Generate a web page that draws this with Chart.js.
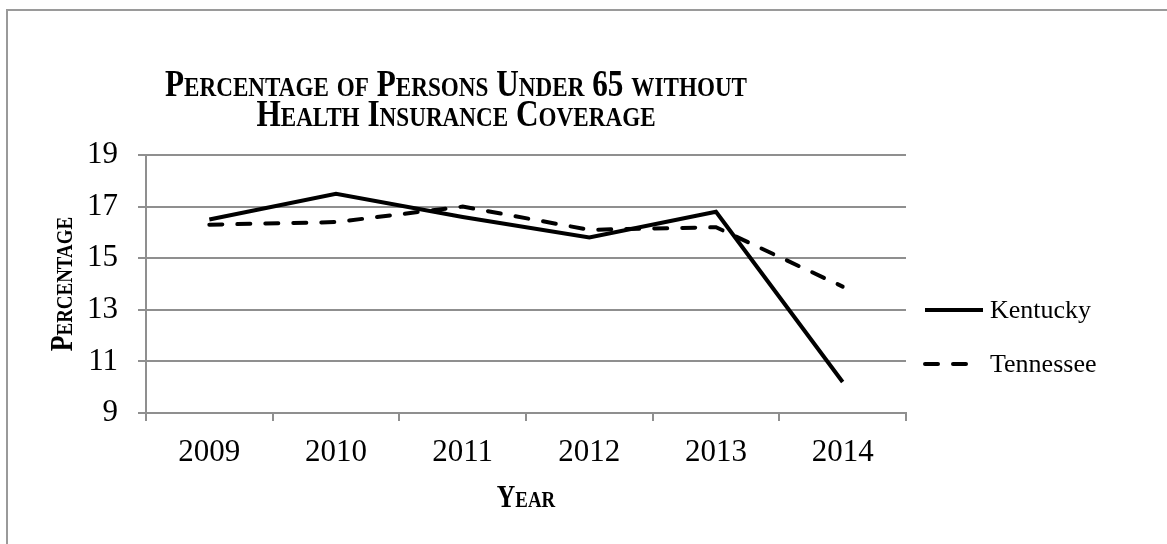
<!DOCTYPE html>
<html>
<head>
<meta charset="utf-8">
<title>Persons Under 65 without Health Insurance</title>
<script src="https://cdn.jsdelivr.net/npm/chart.js@4/dist/chart.umd.min.js"></script>
<style>
  html, body { margin: 0; padding: 0; background: #fff; }
  #wrap { position: relative; width: 1167px; height: 544px; }
</style>
</head>
<body>
<div id="wrap"><canvas id="chart" width="1167" height="544"></canvas></div>
<script>
// Share of persons under 65 without health insurance, by state
const years = ['2009', '2010', '2011', '2012', '2013', '2014'];
const kentucky = [16.5, 17.5, 16.6, 15.8, 16.8, 10.2];
const tennessee = [16.3, 16.4, 17.0, 16.1, 16.2, 13.9];
const seriesNames = ['Kentucky', 'Tennessee'];
const yMin = 9;
const yMax = 19;
const yStep = 2;
const titleLines = ['Percentage of Persons Under 65 without', 'Health Insurance Coverage'];
const yTitle = 'Percentage';
const xTitle = 'Year';

const SERIF = "'Liberation Serif', 'DejaVu Serif', serif";
const GRID = '#8f8f8f';

// Draws text in synthesized small capitals: lowercase letters become
// smaller uppercase letters, everything else stays full size.
function drawSmallCaps(ctx, text, x, y, o) {
  const runs = [];
  for (const ch of text) {
    const small = ch !== ch.toUpperCase();
    const t = small ? ch.toUpperCase() : ch;
    const last = runs[runs.length - 1];
    if (last && last.small === small) last.t += t;
    else runs.push({ small, t });
  }
  const fontFor = s => `${o.weight} ${(s ? o.size * o.ratio : o.size).toFixed(1)}px ${SERIF}`;
  let total = 0;
  runs.forEach(r => { ctx.font = fontFor(r.small); r.w = ctx.measureText(r.t).width; total += r.w; });
  ctx.save();
  ctx.translate(x, y);
  if (o.rotate) ctx.rotate(o.rotate);
  ctx.scale(o.scaleX, 1);
  ctx.fillStyle = '#000';
  ctx.textAlign = 'left';
  ctx.textBaseline = 'alphabetic';
  let cx = -total / 2;
  runs.forEach(r => { ctx.font = fontFor(r.small); ctx.fillText(r.t, cx, 0); cx += r.w; });
  ctx.restore();
}

// Frame, titles and legend drawn around the plot
const decorations = {
  id: 'decorations',
  beforeDraw(chart) {
    const ctx = chart.ctx;
    ctx.save();
    ctx.fillStyle = '#fff';
    ctx.fillRect(0, 0, chart.width, chart.height);
    ctx.strokeStyle = '#9a9a9a';
    ctx.lineWidth = 2;
    ctx.strokeRect(7, 10, chart.width + 20, chart.height + 20);
    ctx.restore();
  },
  afterDraw(chart) {
    const ctx = chart.ctx;
    const a = chart.chartArea;
    const midX = (a.left + a.right) / 2;
    const midY = (a.top + a.bottom) / 2;

    // chart title, two centred lines
    const tOpts = { size: 37, ratio: 0.74, weight: 'bold', scaleX: 0.845 };
    drawSmallCaps(ctx, titleLines[0], 456, 96, tOpts);
    drawSmallCaps(ctx, titleLines[1], 456, 126, tOpts);

    // axis titles
    const aOpts = { size: 32, ratio: 0.74, weight: 'bold', scaleX: 0.8 };
    drawSmallCaps(ctx, yTitle, 72, midY, Object.assign({ rotate: -Math.PI / 2 }, aOpts));
    drawSmallCaps(ctx, xTitle, midX, 507, aOpts);

    // legend to the right of the plot
    const rowY = [a.top + 155, a.top + 209];
    chart.data.datasets.forEach((ds, i) => {
      const y = rowY[i];
      ctx.save();
      ctx.strokeStyle = ds.borderColor;
      ctx.lineWidth = ds.borderWidth;
      ctx.lineCap = ds.borderCapStyle || 'butt';
      ctx.setLineDash(ds.borderDash || []);
      ctx.beginPath();
      const x0 = a.right + 19;
      const x1 = ds.borderDash ? a.right + 65 : a.right + 77;
      ctx.moveTo(x0, y);
      ctx.lineTo(x1, y);
      ctx.stroke();
      ctx.setLineDash([]);
      ctx.fillStyle = '#000';
      ctx.font = `26px ${SERIF}`;
      ctx.textAlign = 'left';
      ctx.textBaseline = 'middle';
      ctx.fillText(ds.label, a.right + 84, y + 1);
      ctx.restore();
    });
  }
};

new Chart(document.getElementById('chart'), {
  type: 'line',
  data: {
    labels: years,
    datasets: [
      {
        label: seriesNames[0],
        data: kentucky,
        borderColor: '#000',
        borderWidth: 4,
        borderJoinStyle: 'miter',
        pointRadius: 0,
        pointHoverRadius: 0,
        tension: 0,
        fill: false
      },
      {
        label: seriesNames[1],
        data: tennessee,
        borderColor: '#000',
        borderWidth: 4,
        borderDash: [13, 15],
        borderCapStyle: 'round',
        pointRadius: 0,
        pointHoverRadius: 0,
        tension: 0,
        fill: false
      }
    ]
  },
  options: {
    responsive: false,
    animation: false,
    devicePixelRatio: 1,
    layout: { padding: { left: 0, top: 155, right: 261, bottom: 0 } },
    plugins: {
      legend: { display: false },
      title: { display: false },
      tooltip: { enabled: false }
    },
    scales: {
      x: {
        offset: true,
        grid: {
          offset: true,
          drawOnChartArea: false,
          drawTicks: true,
          tickLength: 8,
          color: GRID,
          lineWidth: 2
        },
        border: { color: GRID, width: 2 },
        ticks: {
          color: '#000',
          font: { family: SERIF, size: 31 },
          padding: 13,
          maxRotation: 0
        },
        afterFit(scale) { scale.height = 131; }
      },
      y: {
        min: yMin,
        max: yMax,
        grid: {
          color: GRID,
          lineWidth: 2,
          drawTicks: true,
          tickLength: 8
        },
        border: { color: GRID, width: 2 },
        ticks: {
          stepSize: yStep,
          color: '#000',
          font: { family: SERIF, size: 31 },
          padding: 20
        },
        afterFit(scale) { scale.width = 146; }
      }
    }
  },
  plugins: [decorations]
});
</script>
</body>
</html>
